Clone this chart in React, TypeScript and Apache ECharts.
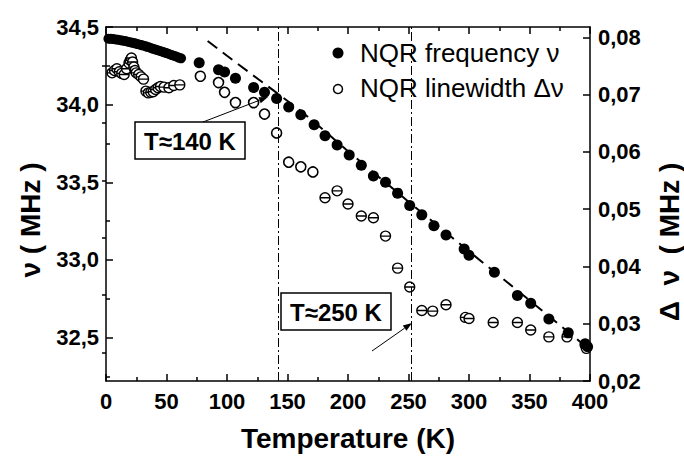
import React, { useEffect, useRef } from "react";
import * as echarts from "echarts";

// ---------- data ----------
// NQR frequency, dense low-temperature band (K, MHz)
const freqLowT = [2, 4, 6, 8, 10, 12, 14, 16, 18, 20, 22, 24, 26, 28, 30, 32, 34, 36, 38, 40, 42, 44, 46, 48, 50, 52, 54, 56, 58, 60, 62];
const freqLowV = [34.425, 34.424, 34.422, 34.42, 34.418, 34.415, 34.412, 34.41, 34.405, 34.402, 34.398, 34.395, 34.39, 34.386, 34.382, 34.378, 34.372, 34.368, 34.362, 34.357, 34.352, 34.347, 34.342, 34.337, 34.332, 34.326, 34.32, 34.315, 34.31, 34.303, 34.298];
// NQR frequency, remaining points
const freqT = [77, 93, 98, 107, 122, 131, 141, 151, 161, 172, 181, 191, 201, 211, 221, 231, 241, 251, 261, 271, 281, 296, 300, 321, 340, 351, 366, 382, 396, 398];
const freqV = [34.27, 34.225, 34.21, 34.17, 34.11, 34.08, 34.04, 33.985, 33.935, 33.87, 33.8, 33.74, 33.675, 33.61, 33.54, 33.5, 33.43, 33.35, 33.29, 33.22, 33.16, 33.07, 33.03, 32.92, 32.77, 32.72, 32.62, 32.53, 32.46, 32.44];
// dashed fit curve
const fitT = [84, 100, 120, 140, 160, 180, 200, 250, 300, 350, 400];
const fitV = [34.41, 34.315, 34.198, 34.082, 33.965, 33.835, 33.7, 33.375, 33.055, 32.74, 32.42];
// NQR linewidth (K, MHz)
const widthLowT = [5, 7, 9, 11, 13, 15, 17, 19, 20, 21, 22, 23, 24, 25, 27, 29, 31, 33, 35, 37, 39, 41, 43, 45, 48, 52, 56, 61];
const widthLowV = [0.0738, 0.0742, 0.0745, 0.074, 0.0737, 0.0735, 0.0745, 0.0755, 0.076, 0.0764, 0.0757, 0.0748, 0.0742, 0.0738, 0.0735, 0.0731, 0.0727, 0.0706, 0.0703, 0.0704, 0.0705, 0.0709, 0.0712, 0.0714, 0.0713, 0.0712, 0.0716, 0.0717];
const widthMidT = [78, 93, 98, 107, 122, 131, 141, 151, 161, 171];
const widthMidV = [0.0732, 0.0721, 0.0704, 0.0686, 0.0686, 0.0666, 0.0633, 0.0582, 0.0574, 0.0565];
const widthHighT = [181, 191, 200, 211, 221, 231, 241, 251, 261, 270, 281, 297, 300, 320, 340, 351, 366, 381, 396, 397];
const widthHighV = [0.052, 0.0532, 0.0509, 0.0488, 0.0485, 0.0453, 0.0397, 0.0364, 0.0323, 0.0322, 0.0333, 0.0311, 0.0309, 0.0302, 0.0302, 0.0289, 0.0277, 0.0277, 0.0263, 0.0257];
// vertical marker temperatures
const markerTemps = [142, 252];
// tick values
const nuLabels = [32.5, 33.0, 33.5, 34.0, 34.5];
const nuMinor = [32.25, 32.75, 33.25, 33.75, 34.25];
const dnuLabels = [0.02, 0.03, 0.04, 0.05, 0.06, 0.07, 0.08];
const dnuMinor = [0.025, 0.035, 0.045, 0.055, 0.065, 0.075];

const FONT = "'Liberation Sans', Arial, Helvetica, sans-serif";
const NU_MIN = 32.22;
const NU_MAX = 34.5;
const DNU_MIN = 0.02;
const DNU_MAX = 0.0818;

const circleBar = "path://M0,5A5,5 0 1 1 10,5A5,5 0 1 1 0,5Z M0.6,5L9.4,5";

const zip = (a: number[], b: number[]) => a.map((v, i) => [v, b[i]]);

function arrow(x1: number, y1: number, x2: number, y2: number) {
  const dx = x2 - x1;
  const dy = y2 - y1;
  const len = Math.sqrt(dx * dx + dy * dy);
  const ux = dx / len;
  const uy = dy / len;
  const hl = 9;
  const hw = 3.2;
  const bx = x2 - ux * hl;
  const by = y2 - uy * hl;
  return [
    { type: "line", z: 100, shape: { x1, y1, x2: bx, y2: by }, style: { stroke: "#000", lineWidth: 1 } },
    {
      type: "polygon",
      z: 100,
      shape: { points: [[x2, y2], [bx - uy * hw, by + ux * hw], [bx + uy * hw, by - ux * hw]] },
      style: { fill: "#000" },
    },
  ];
}

const axisLineStyle = { color: "#000", width: 1.5 };

export default function App() {
  const ref = useRef<HTMLDivElement>(null);

  useEffect(() => {
    if (!ref.current) return;
    const chart = echarts.init(ref.current, undefined, { renderer: "svg" });

    const xCommon = {
      type: "value",
      min: 0,
      max: 400,
      interval: 50,
      splitLine: { show: false },
      axisLine: { show: true, onZero: false, lineStyle: axisLineStyle },
      axisTick: { show: true, inside: true, length: 7, lineStyle: { color: "#000", width: 1.5 } },
      minorTick: { show: true, splitNumber: 2, length: 4, lineStyle: { color: "#000", width: 1.5 } },
    };

    const openStyle = { color: "#fff", borderColor: "#000", borderWidth: 1.4, opacity: 1 };

    const option: any = {
      animation: false,
      backgroundColor: "#fff",
      grid: { left: 106, right: 94, top: 27, bottom: 76, containLabel: false },
      xAxis: [
        {
          ...xCommon,
          position: "bottom",
          axisLabel: { fontSize: 22, fontWeight: "bold", color: "#000", fontFamily: FONT, margin: 9 },
        },
        { ...xCommon, position: "top", axisLabel: { show: false } },
      ],
      yAxis: [
        {
          type: "value",
          min: NU_MIN,
          max: NU_MAX,
          position: "left",
          splitLine: { show: false },
          axisLine: { show: true, onZero: false, lineStyle: axisLineStyle },
          axisTick: { show: true, inside: true, length: 7, customValues: nuLabels, lineStyle: { color: "#000", width: 1.5 } },
          axisLabel: {
            customValues: nuLabels,
            fontSize: 22,
            fontWeight: "bold",
            color: "#000",
            fontFamily: FONT,
            margin: 7,
            formatter: (v: number) => v.toFixed(1).replace(".", ","),
          },
        },
        {
          type: "value",
          min: DNU_MIN,
          max: DNU_MAX,
          position: "right",
          splitLine: { show: false },
          axisLine: { show: true, onZero: false, lineStyle: axisLineStyle },
          axisTick: { show: true, inside: true, length: 7, customValues: dnuLabels, lineStyle: { color: "#000", width: 1.5 } },
          axisLabel: {
            customValues: dnuLabels,
            fontSize: 22,
            fontWeight: "bold",
            color: "#000",
            fontFamily: FONT,
            margin: 8,
            formatter: (v: number) => v.toFixed(2).replace(".", ","),
          },
        },
        {
          type: "value",
          min: NU_MIN,
          max: NU_MAX,
          position: "left",
          splitLine: { show: false },
          axisLine: { show: false },
          axisTick: { show: true, inside: true, length: 4, customValues: nuMinor, lineStyle: { color: "#000", width: 1.5 } },
          axisLabel: { show: false, customValues: nuMinor },
        },
        {
          type: "value",
          min: DNU_MIN,
          max: DNU_MAX,
          position: "right",
          splitLine: { show: false },
          axisLine: { show: false },
          axisTick: { show: true, inside: true, length: 4, customValues: dnuMinor, lineStyle: { color: "#000", width: 1.5 } },
          axisLabel: { show: false, customValues: dnuMinor },
        },
      ],
      series: [
        {
          name: "fit",
          type: "line",
          xAxisIndex: 0,
          yAxisIndex: 0,
          data: zip(fitT, fitV),
          showSymbol: false,
          smooth: false,
          z: 2,
          lineStyle: { color: "#000", width: 2, type: [12, 7] },
          markLine: {
            silent: true,
            symbol: "none",
            label: { show: false },
            lineStyle: { color: "#000", width: 1, type: [9, 3, 2, 3] },
            data: markerTemps.map((t) => ({ xAxis: t })),
          },
        },
        {
          name: "NQR linewidth Δν",
          type: "scatter",
          xAxisIndex: 0,
          yAxisIndex: 1,
          data: zip(widthLowT, widthLowV),
          symbol: circleBar,
          symbolSize: 10,
          z: 3,
          itemStyle: openStyle,
        },
        {
          name: "NQR linewidth Δν",
          type: "scatter",
          xAxisIndex: 0,
          yAxisIndex: 1,
          data: zip(widthMidT, widthMidV),
          symbol: "circle",
          symbolSize: 10,
          z: 3,
          itemStyle: { ...openStyle, borderWidth: 1.6 },
        },
        {
          name: "NQR linewidth Δν",
          type: "scatter",
          xAxisIndex: 0,
          yAxisIndex: 1,
          data: zip(widthHighT, widthHighV),
          symbol: circleBar,
          symbolSize: 10,
          z: 3,
          itemStyle: openStyle,
        },
        {
          name: "NQR frequency ν",
          type: "scatter",
          xAxisIndex: 0,
          yAxisIndex: 0,
          data: zip(freqLowT, freqLowV),
          symbol: "circle",
          symbolSize: 10,
          z: 4,
          itemStyle: { color: "#000", opacity: 1 },
        },
        {
          name: "NQR frequency ν",
          type: "scatter",
          xAxisIndex: 0,
          yAxisIndex: 0,
          data: zip(freqT, freqV),
          symbol: "circle",
          symbolSize: 11,
          z: 4,
          itemStyle: { color: "#000", opacity: 1 },
        },
      ],
      graphic: [
        // legend
        { type: "circle", z: 100, shape: { cx: 338, cy: 53, r: 5.5 }, style: { fill: "#000" } },
        {
          type: "text",
          z: 100,
          x: 360,
          y: 53,
          style: { text: "NQR frequency ν", font: `26px ${FONT}`, fill: "#000", verticalAlign: "middle", align: "left" },
        },
        { type: "circle", z: 100, shape: { cx: 338, cy: 89, r: 4.5 }, style: { fill: "#fff", stroke: "#000", lineWidth: 1.5 } },
        {
          type: "text",
          z: 100,
          x: 360,
          y: 88,
          style: { text: "NQR linewidth Δν", font: `26px ${FONT}`, fill: "#000", verticalAlign: "middle", align: "left" },
        },
        // annotation boxes
        { type: "rect", z: 100, shape: { x: 135, y: 122, width: 110, height: 37 }, style: { fill: "#fff", stroke: "#000", lineWidth: 1.5 } },
        {
          type: "text",
          z: 101,
          x: 190,
          y: 141,
          style: { text: "T≈140 K", font: `bold 24px ${FONT}`, fill: "#000", align: "center", verticalAlign: "middle" },
        },
        { type: "rect", z: 100, shape: { x: 281, y: 293, width: 110, height: 37 }, style: { fill: "#fff", stroke: "#000", lineWidth: 1.5 } },
        {
          type: "text",
          z: 101,
          x: 336,
          y: 312,
          style: { text: "T≈250 K", font: `bold 24px ${FONT}`, fill: "#000", align: "center", verticalAlign: "middle" },
        },
        ...arrow(203, 122, 268, 97),
        ...arrow(372, 351, 412, 323),
        // axis titles
        {
          type: "text",
          z: 100,
          x: 348,
          y: 438,
          style: { text: "Temperature (K)", font: `bold 28px ${FONT}`, fill: "#000", align: "center", verticalAlign: "middle" },
        },
        {
          type: "text",
          z: 100,
          x: 30,
          y: 220,
          rotation: Math.PI / 2,
          style: { text: "ν ( MHz )", font: `bold 28px ${FONT}`, fill: "#000", align: "center", verticalAlign: "middle" },
        },
        {
          type: "text",
          z: 100,
          x: 669,
          y: 242,
          rotation: Math.PI / 2,
          style: { text: "Δ  ν  ( MHz )", font: `bold 28px ${FONT}`, fill: "#000", align: "center", verticalAlign: "middle" },
        },
      ],
    };

    chart.setOption(option);
    return () => chart.dispose();
  }, []);

  return (
    <div
      ref={ref}
      style={{ position: "fixed", left: 0, top: 0, width: 684, height: 457, background: "#fff" }}
    />
  );
}
